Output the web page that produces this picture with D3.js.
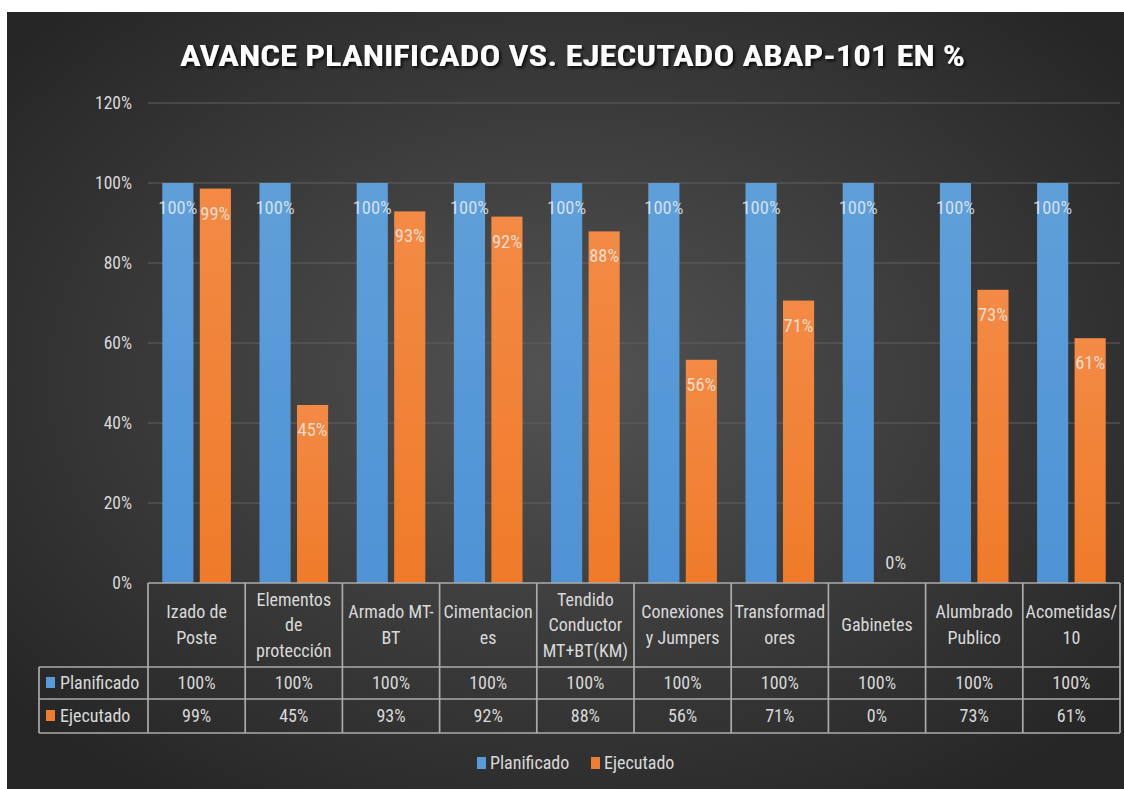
<!DOCTYPE html>
<html><head><meta charset="utf-8">
<script src="https://cdn.jsdelivr.net/npm/d3@7"></script>
<style>
html,body{margin:0;padding:0;background:#fff;}
svg{display:block;}
text{font-family:"Liberation Sans Narrow","Arial Narrow","Roboto Condensed",Roboto,sans-serif;}
</style></head>
<body><svg id="c" width="1124" height="789"></svg>
<script>
const title = "AVANCE PLANIFICADO VS. EJECUTADO ABAP-101 EN %";
const categories = ["Izado de Poste","Elementos de protección","Armado MT-BT","Cimentaciones","Tendido Conductor MT+BT(KM)","Conexiones y Jumpers","Transformadores","Gabinetes","Alumbrado Publico","Acometidas/10"];
const categoryLines = [["Izado de","Poste"],["Elementos","de","protección"],["Armado MT-","BT"],["Cimentacion","es"],["Tendido","Conductor","MT+BT(KM)"],["Conexiones","y Jumpers"],["Transformad","ores"],["Gabinetes"],["Alumbrado","Publico"],["Acometidas/","10"]];
const seriesNames = ["Planificado","Ejecutado"];
const planificado = [1,1,1,1,1,1,1,1,1,1];
const ejecutado = [0.986,0.445,0.929,0.916,0.879,0.558,0.706,0,0.733,0.612];
const yTicks = [0,0.2,0.4,0.6,0.8,1.0,1.2];
const seriesColors = ["#5b9bd5","#ed7d31"];

const svg = d3.select("#c");
const defs = svg.append("defs");
const bg = defs.append("radialGradient").attr("id","bg").attr("cx","0.5").attr("cy","0.47").attr("r","0.65");
bg.append("stop").attr("offset","0").attr("stop-color","#535353");
bg.append("stop").attr("offset","1").attr("stop-color","#262626");
const gB = defs.append("linearGradient").attr("id","gB").attr("x1",0).attr("y1",0).attr("x2",0).attr("y2",1);
gB.append("stop").attr("offset",0).attr("stop-color","#5f9fd9");
gB.append("stop").attr("offset",1).attr("stop-color","#4f93d6");
const gO = defs.append("linearGradient").attr("id","gO").attr("x1",0).attr("y1",0).attr("x2",0).attr("y2",1);
gO.append("stop").attr("offset",0).attr("stop-color","#f38a45");
gO.append("stop").attr("offset",1).attr("stop-color","#ef7b2a");
const sh = defs.append("filter").attr("id","sh").attr("x","-5%").attr("y","-30%").attr("width","110%").attr("height","160%");
sh.append("feDropShadow").attr("dx",2).attr("dy",2).attr("stdDeviation",1.5).attr("flood-color","#000").attr("flood-opacity",0.8);

svg.append("rect").attr("x",7).attr("y",12).attr("width",1117).attr("height",777).attr("fill","url(#bg)");

const plotLeft = 148, plotRight = 1120, plotTop = 103, base = 583;
const x0 = d3.scaleBand().domain(categories).range([plotLeft,plotRight]).padding(0);
const bw = x0.bandwidth();
const x1 = d3.scaleBand().domain(seriesNames).range([bw*0.147,bw*0.853]).paddingInner(0.17);
const y = d3.scaleLinear().domain([0,1.2]).range([base,plotTop]);
const fmt = d3.format(".0%");

// gridlines
svg.append("g").selectAll("line").data(yTicks.filter(t=>t>0)).join("line")
  .attr("x1",plotLeft).attr("x2",plotRight).attr("y1",d=>y(d)).attr("y2",d=>y(d))
  .attr("stroke","#616161").attr("stroke-width",1.2);

// y axis labels
const yAxis = d3.axisLeft(y).tickValues(yTicks).tickFormat(d3.format(".0%")).tickSize(0).tickPadding(16);
const ya = svg.append("g").attr("transform",`translate(${plotLeft},0)`).call(yAxis);
ya.select(".domain").remove();
ya.attr("font-family",null);
ya.selectAll("text").attr("fill","#d9d9d9").attr("font-size",17.5);

// bars
const data = categories.map((c,i)=>({c, vals:[planificado[i],ejecutado[i]]}));
const groups = svg.append("g").selectAll("g").data(data).join("g").attr("transform",d=>`translate(${x0(d.c)},0)`);
groups.selectAll("rect").data(d=>d.vals.map((v,j)=>({s:seriesNames[j],v,j}))).join("rect")
  .attr("x",d=>x1(d.s)).attr("width",x1.bandwidth())
  .attr("y",d=>y(d.v)).attr("height",d=>base-y(d.v))
  .attr("fill",d=>d.j===0?"url(#gB)":"url(#gO)");
groups.selectAll("text").data(d=>d.vals.map((v,j)=>({s:seriesNames[j],v,j}))).join("text")
  .attr("x",d=>x1(d.s)+x1.bandwidth()/2)
  .attr("y",d=> (base-y(d.v) < 30) ? y(d.v)-14 : y(d.v)+31)
  .attr("text-anchor","middle").attr("font-size",18.5)
  .attr("fill",d=> (base-y(d.v) < 30) ? "#d9d9d9" : "#f4f4f4").attr("fill-opacity",d=> (base-y(d.v)<30)?1:0.78)
  .text(d=>fmt(d.v));

// data table
const tb = svg.append("g");
const hdrBottom = 667, r1 = 699, r2 = 733, labelLeft = 39;
const lc = "#ababab", lw = 1.7;
const ln = (ax,ay,bx,by)=>tb.append("line").attr("x1",ax).attr("y1",ay).attr("x2",bx).attr("y2",by).attr("stroke",lc).attr("stroke-width",lw);
ln(plotLeft,base,plotRight,base);
ln(labelLeft,hdrBottom,plotRight,hdrBottom);
ln(labelLeft,r1,plotRight,r1);
ln(labelLeft,r2,plotRight,r2);
ln(labelLeft,hdrBottom,labelLeft,r2);
categories.forEach(c=>ln(x0(c),base,x0(c),r2));
ln(plotRight,base,plotRight,r2);

// header labels
const hdr = tb.append("g").selectAll("text").data(categoryLines.map((l,i)=>({l,c:categories[i]}))).join("text")
  .attr("text-anchor","middle").attr("font-size",18).attr("fill","#d9d9d9")
  .attr("x",d=>x0(d.c)+bw/2);
hdr.each(function(d){
  const n = d.l.length, lh = 25.5, mid = (base+hdrBottom)/2;
  d3.select(this).selectAll("tspan").data(d.l).join("tspan")
    .attr("x",x0(d.c)+bw/2)
    .attr("y",(t,k)=> mid + (k-(n-1)/2)*lh + 6)
    .text(t=>t);
});
// value rows
const rows = [{name:seriesNames[0],vals:planificado,y0:hdrBottom,y1:r1,col:seriesColors[0]},{name:seriesNames[1],vals:ejecutado,y0:r1,y1:r2,col:seriesColors[1]}];
rows.forEach(r=>{
  const cy = (r.y0+r.y1)/2 + 6;
  tb.append("g").selectAll("text").data(r.vals.map((v,i)=>({v,c:categories[i]}))).join("text")
    .attr("x",d=>x0(d.c)+bw/2).attr("y",cy).attr("text-anchor","middle")
    .attr("font-size",18).attr("fill","#d9d9d9").text(d=>fmt(d.v));
  tb.append("rect").attr("x",46).attr("y",(r.y0+r.y1)/2-6).attr("width",9).attr("height",11).attr("fill",r.col);
  tb.append("text").attr("x",60).attr("y",cy).attr("font-size",18).attr("fill","#d9d9d9").text(r.name);
});

// legend
const lg = svg.append("g");
const legX = [477,591];
seriesNames.forEach((s,i)=>{
  lg.append("rect").attr("x",legX[i]).attr("y",757).attr("width",9).attr("height",12).attr("fill",seriesColors[i]);
  lg.append("text").attr("x",legX[i]+13).attr("y",769).attr("font-size",18).attr("fill","#d9d9d9").text(s);
});

// title
svg.append("text").attr("x",180).attr("y",66).attr("font-size",29).attr("font-weight","bold")
  .attr("fill","#ffffff").attr("filter","url(#sh)").attr("textLength",785).attr("lengthAdjust","spacingAndGlyphs")
  .text(title);
</script></body></html>
